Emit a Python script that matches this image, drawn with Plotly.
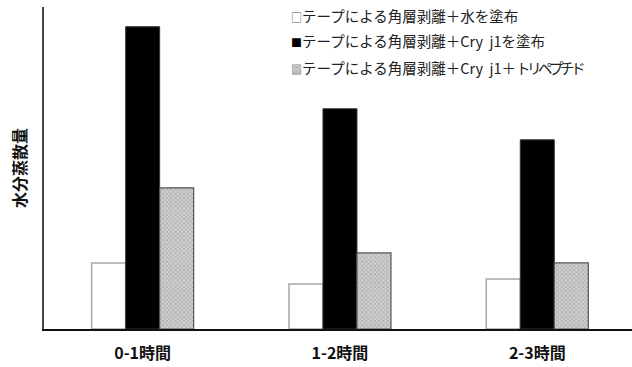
import plotly.graph_objects as go

# Data
categories = ["0-1時間", "1-2時間", "2-3時間"]
series_names = [
    "テープによる角層剥離＋水を塗布",
    "テープによる角層剥離＋Cry&nbsp;&nbsp;j1を塗布",
    "テープによる角層剥離＋Cry&nbsp;&nbsp;j1＋<span style='letter-spacing:-3.5px'>トリペプチド</span>",
]
water = [6.6, 4.5, 5.0]
cry_j1 = [30.2, 22.0, 18.9]
cry_j1_tripeptide = [14.1, 7.6, 6.6]
y_title = "水分蒸散量"

W, H = 632, 367
ML, MR, MT, MB = 44, 0, 7, 38
JP = "Noto Sans CJK JP"

x = list(range(len(categories)))

fig = go.Figure()
fig.add_trace(go.Bar(
    x=x, y=water, name=series_names[0],
    marker=dict(color="white", line=dict(color="#a6a6a6", width=1.5)),
))
fig.add_trace(go.Bar(
    x=x, y=cry_j1, name=series_names[1],
    marker=dict(color="black", line=dict(color="#333333", width=1)),
))
fig.add_trace(go.Bar(
    x=x, y=cry_j1_tripeptide, name=series_names[2],
    marker=dict(
        color="#cccccc",
        line=dict(color="#555555", width=1.2),
        pattern=dict(shape="x", fgcolor="#7a7a7a", bgcolor="#d0d0d0",
                     size=3, solidity=0.4),
    ),
))

# Legend drawn as text rows with square markers
glyphs = [("□", "#555555"), ("■", "#000000"), ("▩", "#8a8a8a")]
plot_w = W - ML - MR
plot_h = H - MT - MB
leg_x_px = 289
leg_rows_px = [15, 41, 67]
for (g, c), name, ypx in zip(glyphs, series_names, leg_rows_px):
    fig.add_annotation(
        xref="paper", yref="paper",
        x=(leg_x_px - ML) / plot_w, y=1 - (ypx - MT) / plot_h,
        xanchor="left", yanchor="middle", showarrow=False,
        text=f"<span style='font-size:11px;color:{c}'>{g}</span>{name}",
        font=dict(family=JP, size=14.5, color="#222222"),
    )

fig.update_layout(
    width=W, height=H,
    margin=dict(l=ML, r=MR, t=MT, b=MB),
    paper_bgcolor="white", plot_bgcolor="white",
    barmode="group", bargap=0.483, bargroupgap=0,
    showlegend=False,
    font=dict(family=JP),
)
fig.update_xaxes(
    range=[-0.5, 2.48],
    tickmode="array", tickvals=x, ticktext=categories,
    tickfont=dict(family=JP, size=16, color="#111111", weight="bold"),
    ticklabelstandoff=9,
    showline=True, linecolor="#111111", linewidth=1.5,
    showgrid=False, ticks="", zeroline=False,
)
fig.update_yaxes(
    range=[0, 32.17],
    showticklabels=False, ticks="", showgrid=False, zeroline=False,
    showline=True, linecolor="#444444", linewidth=1.5,
    title=dict(text=y_title, standoff=12,
               font=dict(family=JP, size=16, color="#111111", weight="bold")),
)

fig.write_html("out.html")
